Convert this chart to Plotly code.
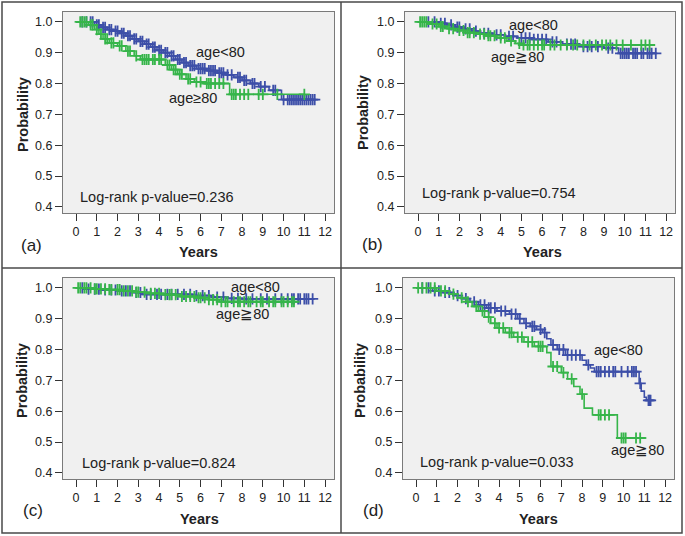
import numpy as np
import plotly.graph_objects as go

# ---------------- data ----------------
# panel (a)
a_young_t = [0, 0.9, 1.2, 1.5, 1.8, 2.1, 2.4, 2.7, 3.0, 3.3, 3.6, 3.9, 4.2, 4.5, 4.8, 5.1, 5.4, 5.8, 6.3, 6.8, 7.2, 7.6, 8.0, 8.4, 8.8, 9.3, 9.9, 11.5]
a_young_s = [1.0, 0.99, 0.982, 0.975, 0.97, 0.963, 0.955, 0.945, 0.937, 0.928, 0.918, 0.908, 0.9, 0.89, 0.878, 0.868, 0.858, 0.848, 0.842, 0.835, 0.828, 0.82, 0.81, 0.8, 0.79, 0.778, 0.748, 0.748]
a_young_c = [0.3, 0.5, 0.7, 0.8, 1.0, 1.1, 1.3, 1.4, 1.6, 1.7, 1.9, 2.0, 2.2, 2.3, 2.5, 2.6, 2.8, 2.9, 3.1, 3.2, 3.4, 3.5, 3.7, 3.8, 4.0, 4.1, 4.3, 4.4, 4.6, 4.7, 4.9, 5.0, 5.2, 5.3, 5.5, 5.6, 5.7, 5.9, 6.0, 6.1, 6.2, 6.4, 6.5, 6.6, 6.7, 6.9, 7.0, 7.1, 7.3, 7.5, 7.8, 7.9, 8.1, 8.2, 8.5, 8.6, 8.9, 9.1, 9.5, 9.6, 10.0, 10.2, 10.3, 10.4, 10.5, 10.6, 10.7, 10.8, 10.9, 11.0, 11.1, 11.2, 11.3, 11.4, 11.5]
a_old_t = [0, 0.6, 0.9, 1.1, 1.3, 1.6, 2.0, 2.4, 2.8, 3.1, 4.3, 4.6, 4.9, 5.3, 5.7, 6.2, 7.4, 11.0]
a_old_s = [1.0, 0.99, 0.975, 0.96, 0.945, 0.932, 0.922, 0.905, 0.89, 0.878, 0.86, 0.845, 0.83, 0.815, 0.805, 0.8, 0.765, 0.765]
a_old_c = [0.2, 0.3, 0.4, 0.5, 0.7, 0.8, 1.0, 1.2, 1.4, 1.5, 1.7, 1.8, 2.1, 2.2, 2.5, 2.6, 2.9, 3.2, 3.3, 3.4, 3.5, 3.7, 3.8, 4.0, 4.1, 4.4, 4.5, 4.7, 4.8, 5.0, 5.1, 5.4, 5.5, 5.8, 6.0, 6.3, 6.4, 6.5, 6.7, 6.9, 7.1, 7.5, 7.6, 7.7, 7.9, 8.1, 8.3, 8.8, 9.0, 9.7, 11.0]

# panel (b)
b_young_t = [0, 1.0, 1.4, 1.8, 2.2, 2.6, 3.0, 3.6, 4.2, 4.8, 5.5, 6.3, 7.0, 7.8, 9.0, 9.7, 11.5]
b_young_s = [1.0, 0.995, 0.99, 0.983, 0.977, 0.97, 0.963, 0.958, 0.953, 0.948, 0.943, 0.935, 0.928, 0.92, 0.915, 0.898, 0.898]
b_young_c = [0.5, 0.8, 1.1, 1.3, 1.6, 1.9, 2.0, 2.3, 2.5, 2.8, 3.2, 3.4, 3.8, 4.0, 4.4, 4.6, 5.0, 5.2, 5.4, 5.6, 5.8, 6.0, 6.2, 6.5, 6.7, 7.2, 7.4, 7.6, 8.0, 8.2, 8.4, 8.7, 9.2, 9.4, 9.8, 9.9, 10.0, 10.1, 10.2, 10.4, 10.5, 10.6, 10.8, 10.9, 11.1, 11.2, 11.3, 11.5]
b_old_t = [0, 0.6, 1.0, 1.4, 1.8, 2.3, 2.8, 3.3, 3.8, 4.3, 4.7, 5.0, 11.2]
b_old_s = [1.0, 0.993, 0.985, 0.978, 0.972, 0.965, 0.96, 0.955, 0.948, 0.938, 0.93, 0.925, 0.925]
b_old_c = [0.1, 0.2, 0.3, 0.4, 0.7, 0.9, 1.1, 1.2, 1.5, 1.7, 2.0, 2.2, 2.4, 2.5, 2.7, 3.0, 3.2, 3.4, 3.5, 3.7, 4.0, 4.2, 4.5, 4.9, 5.1, 5.3, 5.4, 5.6, 5.8, 6.0, 6.1, 6.4, 6.6, 6.9, 7.2, 7.5, 7.7, 8.0, 8.3, 8.6, 8.9, 9.1, 9.3, 9.6, 9.9, 10.3, 10.8, 11.0, 11.2]

# panel (c)
c_young_t = [0, 0.5, 1.2, 2.0, 2.7, 3.2, 5.0, 5.6, 6.5, 7.2, 8.0, 11.5]
c_young_s = [1.0, 0.996, 0.993, 0.99, 0.985, 0.979, 0.979, 0.975, 0.97, 0.966, 0.964, 0.964]
c_young_c = [0.3, 0.6, 0.9, 1.1, 1.4, 1.7, 1.9, 2.2, 2.4, 2.6, 2.9, 3.1, 3.4, 3.6, 3.9, 4.1, 4.4, 4.6, 4.9, 5.2, 5.5, 5.8, 6.1, 6.4, 6.8, 7.1, 7.5, 7.8, 8.2, 8.5, 8.9, 9.2, 9.6, 9.9, 10.2, 10.4, 10.5, 10.7, 10.8, 11.0, 11.1, 11.2, 11.4]
c_old_t = [0, 0.8, 1.5, 2.2, 2.8, 3.4, 4.2, 5.0, 5.8, 6.4, 6.9, 10.5]
c_old_s = [1.0, 0.997, 0.994, 0.99, 0.986, 0.982, 0.978, 0.972, 0.968, 0.962, 0.955, 0.955]
c_old_c = [0.1, 0.2, 0.4, 0.5, 0.7, 0.9, 1.0, 1.2, 1.4, 1.6, 1.7, 2.0, 2.1, 2.3, 2.5, 2.7, 2.9, 3.0, 3.3, 3.6, 3.8, 4.0, 4.3, 4.5, 4.6, 4.8, 5.1, 5.3, 5.5, 5.7, 5.9, 6.0, 6.2, 6.4, 6.6, 6.8, 7.0, 7.2, 7.3, 7.6, 7.8, 7.9, 8.1, 8.3, 8.4, 8.7, 8.9, 9.0, 9.3, 9.5, 9.6, 9.9, 10.0, 10.2, 10.4, 10.5]

# panel (d)
d_young_t = [0, 0.8, 1.3, 1.8, 2.2, 2.6, 3.0, 3.4, 3.9, 4.5, 4.9, 5.2, 5.5, 5.8, 6.1, 6.3, 6.5, 6.8, 7.2, 8.0, 8.2, 8.4, 8.6, 10.75, 10.85, 11.0, 11.1, 11.4]
d_young_s = [1.0, 0.99, 0.985, 0.975, 0.965, 0.955, 0.945, 0.935, 0.925, 0.915, 0.9, 0.885, 0.875, 0.865, 0.855, 0.835, 0.815, 0.8, 0.782, 0.765, 0.75, 0.74, 0.728, 0.69, 0.665, 0.645, 0.635, 0.635]
d_young_c = [0.3, 0.6, 0.9, 1.1, 1.4, 1.6, 2.0, 2.4, 2.8, 3.1, 3.3, 3.5, 3.6, 3.8, 4.1, 4.3, 4.6, 4.8, 5.0, 5.3, 5.6, 5.7, 6.0, 6.2, 6.6, 6.9, 7.1, 7.3, 7.5, 7.7, 7.9, 8.3, 8.7, 8.8, 8.9, 9.1, 9.3, 9.5, 9.6, 9.9, 10.2, 10.4, 10.5, 10.6, 10.8, 11.2, 11.25, 11.3]
d_old_t = [0, 1.0, 1.6, 2.0, 2.4, 2.7, 3.0, 3.3, 3.6, 3.9, 4.3, 4.7, 5.2, 5.7, 6.3, 6.5, 7.0, 7.3, 7.6, 7.9, 8.1, 8.5, 9.7, 11.1]
d_old_s = [1.0, 0.99, 0.98, 0.968, 0.955, 0.94, 0.925, 0.905, 0.885, 0.87, 0.855, 0.84, 0.825, 0.81, 0.79, 0.745, 0.725, 0.705, 0.68, 0.655, 0.61, 0.588, 0.513, 0.513]
d_old_c = [0.1, 0.3, 0.5, 0.7, 0.9, 1.2, 1.4, 1.8, 2.2, 2.5, 2.9, 3.2, 3.5, 3.8, 4.0, 4.2, 4.5, 4.6, 4.9, 5.1, 5.4, 5.6, 5.9, 6.0, 6.1, 6.6, 6.8, 7.1, 7.5, 8.0, 8.8, 8.9, 9.1, 9.3, 9.9, 10.0, 10.1, 10.6, 10.8]

p_values = ["0.236", "0.754", "0.824", "0.033"]
panel_tags = ["(a)", "(b)", "(c)", "(d)"]
x_ticks = list(range(13))
y_ticks = [0.4, 0.5, 0.6, 0.7, 0.8, 0.9, 1.0]

BLUE = "#3d4fa8"
GREEN = "#36b54a"
W, H = 685, 536

panels = [
    (a_young_t, a_young_s, a_young_c, a_old_t, a_old_s, a_old_c),
    (b_young_t, b_young_s, b_young_c, b_old_t, b_old_s, b_old_c),
    (c_young_t, c_young_s, c_young_c, c_old_t, c_old_s, c_old_c),
    (d_young_t, d_young_s, d_young_c, d_old_t, d_old_s, d_old_c),
]

# plot boxes in pixels: left, right, top, bottom
boxes = [(63, 334, 12, 213), (405, 675, 12, 213), (63, 334, 278, 479), (403, 674, 278, 479)]


def at(times, surv, pts):
    idx = np.searchsorted(times, pts, side="right") - 1
    return [surv[i] for i in idx]


fig = go.Figure()
for k, (yt, ys, yc, ot, os_, oc) in enumerate(panels):
    xa = "x" if k == 0 else f"x{k+1}"
    ya = "y" if k == 0 else f"y{k+1}"
    for t, s, c, col in [(yt, ys, yc, BLUE), (ot, os_, oc, GREEN)]:
        fig.add_trace(go.Scatter(x=t, y=s, mode="lines", line=dict(color=col, width=1.6, shape="hv"),
                                 xaxis=xa, yaxis=ya, showlegend=False, hoverinfo="skip"))
        fig.add_trace(go.Scatter(x=c, y=at(t, s, c), mode="markers",
                                 marker=dict(symbol="cross-thin", size=8, line=dict(color=col, width=1.8)),
                                 xaxis=xa, yaxis=ya, showlegend=False, hoverinfo="skip"))

font = "Arial, Liberation Sans, sans-serif"
layout = dict(width=W, height=H, margin=dict(l=0, r=0, t=0, b=0),
              paper_bgcolor="white", plot_bgcolor="#f0f0f0", font=dict(family=font, color="#222"))
for k, (l, r, t, b) in enumerate(boxes):
    sx = "" if k == 0 else str(k + 1)
    layout["xaxis" + sx] = dict(domain=[l / W, r / W], range=[-0.63, 12.43], tickvals=x_ticks,
                                ticks="outside", ticklen=7, tickwidth=1.3, tickcolor="#333",
                                showgrid=False, zeroline=False, showline=True, mirror=True,
                                linecolor="#7a7a7a", linewidth=1, tickfont=dict(size=12.5),
                                anchor="y" + sx, fixedrange=True)
    layout["yaxis" + sx] = dict(domain=[1 - b / H, 1 - t / H], range=[0.38, 1.032], tickvals=y_ticks,
                                tickformat=".1f", ticks="outside", ticklen=7, tickwidth=1.3, tickcolor="#333",
                                showgrid=False, zeroline=False, showline=True, mirror=True,
                                linecolor="#7a7a7a", linewidth=1, tickfont=dict(size=12.5),
                                anchor="x" + sx, fixedrange=True)
fig.update_layout(**layout)

# axis titles, tags, p-values
ann = []
title_pos = [(198, 252, 23, 115), (542, 252, 363, 113), (200, 519, 22, 381), (538, 519, 360, 381)]
tag_pos = [(31, 246), (372, 244), (33, 510), (373, 510)]
pv_pos = [(78, 197), (420, 193), (80, 463), (418, 462)]
for k in range(4):
    xx, yy, px, py = title_pos[k]
    ann.append(dict(x=xx / W, y=1 - yy / H, text="<b>Years</b>", font=dict(size=14.5)))
    ann.append(dict(x=px / W, y=1 - py / H, text="<b>Probability</b>", textangle=-90, font=dict(size=14.5)))
    ann.append(dict(x=tag_pos[k][0] / W, y=1 - tag_pos[k][1] / H, text=panel_tags[k], font=dict(size=17)))
    ann.append(dict(x=pv_pos[k][0] / W, y=1 - pv_pos[k][1] / H, text="Log-rank p-value=" + p_values[k],
                    xanchor="left", font=dict(size=14.5)))

# group labels
lab = [("age<80", 220, 52), ("age≥80", 193, 98),
       ("age<80", 533, 25), ("age≧80", 517, 57),
       ("age<80", 255, 287), ("age≧80", 242, 314),
       ("age<80", 618, 350), ("age≧80", 637, 450)]
for txt, xx, yy in lab:
    ann.append(dict(x=xx / W, y=1 - yy / H, text=txt, font=dict(size=14.5)))
for a in ann:
    a.setdefault("xanchor", "center")
    a.update(xref="paper", yref="paper", showarrow=False, yanchor="middle")
fig.update_layout(annotations=ann)

# panel frame
line = dict(color="#4a4a4a", width=1.5)
fig.update_layout(shapes=[
    dict(type="rect", xref="paper", yref="paper", x0=2 / W, x1=682 / W, y0=1 - 533 / H, y1=1 - 2 / H, line=line),
    dict(type="line", xref="paper", yref="paper", x0=341 / W, x1=341 / W, y0=1 - 533 / H, y1=1 - 2 / H, line=line),
    dict(type="line", xref="paper", yref="paper", x0=2 / W, x1=682 / W, y0=1 - 268 / H, y1=1 - 268 / H, line=line),
])

fig.write_html("out.html", config={"displayModeBar": False},
               post_script="document.body.style.margin='0';")
